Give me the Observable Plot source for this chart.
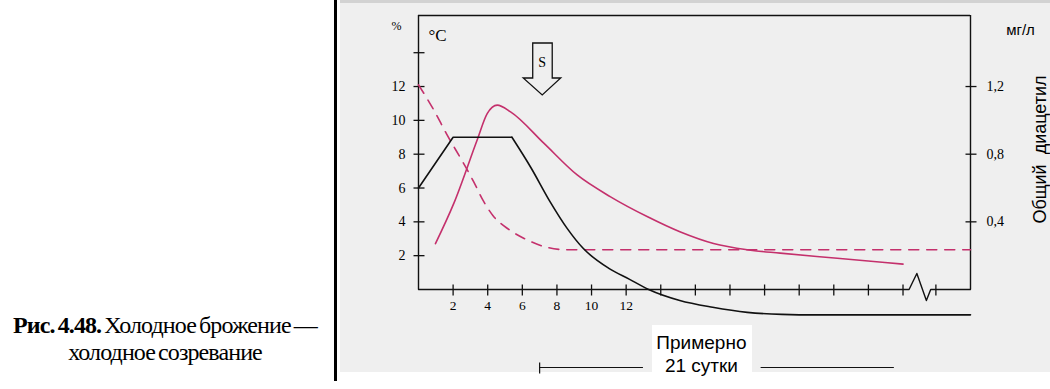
<!DOCTYPE html>
<html><head><meta charset="utf-8">
<script src="https://cdn.jsdelivr.net/npm/d3@7"></script>
<script src="https://cdn.jsdelivr.net/npm/@observablehq/plot@0.6"></script>
<style>
html,body{margin:0;padding:0;background:#fff;}
#wrap{position:relative;width:1050px;height:389px;overflow:hidden;}
#scan{position:absolute;left:340px;top:0;width:710px;height:372px;background:#efefef;}
#topband{position:absolute;left:340px;top:0;width:710px;height:3px;background:#d2d2d2;}
#patch{position:absolute;left:652px;top:325px;width:100px;height:47px;background:#fff;}
#divider{position:absolute;left:334px;top:0;width:3px;height:381px;background:#000;}
#caption{position:absolute;left:0;top:312px;width:330px;text-align:center;font-family:"Liberation Serif",serif;font-size:24px;line-height:27px;letter-spacing:-0.9px;word-spacing:-2px;color:#000;}
#chart{position:absolute;left:0;top:0;}
</style></head><body>
<div id="wrap">
<div id="scan"></div><div id="topband"></div><div id="patch"></div><div id="divider"></div>
<div id="caption"><b>Рис. 4.48.</b> Холодное брожение —<br>холодное созревание</div>
<div id="chart"></div>
</div>
<script>
// Temperature, °C (black)
const tempDays   = [0, 2, 5.4, 6.5, 7.6, 8.6, 9.5, 11, 12.2, 13.3, 15.1, 17, 19, 21, 23, 31.9];
const tempValues = [6, 9, 9, 7.2, 5.2, 3.6, 2.45, 1.25, 0.6, 0, -0.65, -1.05, -1.35, -1.47, -1.5, -1.5];
// Total diacetyl (magenta solid, read on the left scale; right scale = /10 mg/l)
const diaDays   = [0.98, 2.04, 3.39, 3.97, 4.55, 5.32, 7.24, 9.17, 11.1, 13.24, 15.14, 17.05, 19.0, 20.9, 24.2, 28.0];
const diaValues = [2.71, 5.09, 8.84, 10.4, 10.9, 10.5, 8.65, 6.77, 5.48, 4.3, 3.4, 2.72, 2.35, 2.15, 1.85, 1.5];
// Extract, % (magenta dashed)
const extDays   = [0, 0.89, 1.62, 2.58, 3.2, 3.74, 4.32, 5.22, 6.24, 7.4, 8.5, 31.9];
const extValues = [12.1, 10.6, 9.2, 7.5, 6.35, 5.25, 4.35, 3.55, 2.95, 2.5, 2.35, 2.35];
// Axes
const xTicks = [2, 4, 6, 8, 10, 12, 14, 16, 18, 20, 22, 24, 26, 28, 29.9];
const xTickLabels = [2, 4, 6, 8, 10, 12];
const leftTicks = [2, 4, 6, 8, 10, 12, 14];
const leftTickLabels = [2, 4, 6, 8, 10, 12];
const rightTicks = [4, 8, 12];
const rightTickLabels = ["0,4", "0,8", "1,2"];
const breakDays   = [0, 28.35, 28.8, 29.35, 29.6, 31.9];
const breakLevels = [0, 0, 0.95, -0.65, 0, 0];
// Annotations
const arrowDay = [7.15];
const arrowLevel = [11.5];
const arrowLabel = ["S"];
const periodSegments = [[7, 13.0], [19.8, 27.5]];
const periodLabelDay = 16.35;
const periodLabel = ["Примерно", "21 сутки"];

const xMax = 31.9, yMax = 16.2;
const pink = "#c4306c";
const ink = "#111";

const temp = tempDays.map((d, i) => ({day: d, v: tempValues[i]}));
const dia = diaDays.map((d, i) => ({day: d, v: diaValues[i]}));
const ext = extDays.map((d, i) => ({day: d, v: extValues[i]}));
const axisLine = breakDays.map((d, i) => ({day: d, v: breakLevels[i]}));
const arrow = arrowDay.map((d, i) => ({day: d, v: arrowLevel[i], label: arrowLabel[i]}));

const hTick = {draw(c) { c.moveTo(-5, 0); c.lineTo(6, 0); }};
const vTick = {draw(c) { c.moveTo(0, -5); c.lineTo(0, 6); }};
const arrowShape = {draw(c) {
  c.moveTo(-9.5, -52); c.lineTo(10, -52); c.lineTo(10, -17); c.lineTo(18.5, -17);
  c.lineTo(0, 0); c.lineTo(-19, -17); c.lineTo(-9.5, -17); c.closePath();
}};

const serif = "Liberation Serif, DejaVu Serif, serif";
const sans = "Liberation Sans, Arial, sans-serif";

const chart = Plot.plot({
  width: 1050, height: 389,
  marginLeft: 418, marginRight: 80, marginTop: 15, marginBottom: 100,
  x: {domain: [0, xMax]},
  y: {domain: [0, yMax]},
  style: {background: "transparent", fontFamily: serif, color: "#000", overflow: "visible"},
  marks: [
    // frame
    Plot.ruleY([yMax], {x1: 0, x2: xMax, stroke: ink, strokeWidth: 1.4}),
    Plot.ruleX([0, xMax], {stroke: ink, strokeWidth: 1.4}),
    Plot.line(axisLine, {x: "day", y: "v", stroke: ink, strokeWidth: 1.4}),
    // ticks
    Plot.dot(xTicks, {x: d => d, y: 0, symbol: vTick, r: 5, stroke: ink, fill: "none", strokeWidth: 1.3}),
    Plot.dot(leftTicks, {x: 0, y: d => d, symbol: hTick, r: 5, stroke: ink, fill: "none", strokeWidth: 1.3}),
    Plot.dot(rightTicks, {x: xMax, y: d => d, symbol: hTick, r: 5, stroke: ink, fill: "none", strokeWidth: 1.3}),
    Plot.axisX(xTickLabels, {tickSize: 0, tickPadding: 11, fontSize: 13.5, fontFamily: serif, label: null}),
    Plot.axisY(leftTickLabels, {tickSize: 0, tickPadding: 13, fontSize: 14, fontFamily: serif, label: null}),
    Plot.axisY(rightTicks, {anchor: "right", tickSize: 0, tickPadding: 16, fontSize: 14, fontFamily: serif, label: null,
      tickFormat: (d) => rightTickLabels[rightTicks.indexOf(d)]}),
    // axis titles
    Plot.text(["%"], {frameAnchor: "top-left", dx: -27, dy: 6, fontSize: 12, fontFamily: serif}),
    Plot.text(["°C"], {frameAnchor: "top-left", dx: 10, dy: 13, fontSize: 17, fontFamily: serif}),
    Plot.text(["мг/л"], {frameAnchor: "top-right", dx: 50, dy: 9, textAnchor: "middle", fontSize: 15, fontFamily: sans, letterSpacing: 1}),
    Plot.text(["Общий  диацетил"], {frameAnchor: "right", dx: 70, dy: -3, rotate: -90, textAnchor: "middle", fontSize: 18, fontFamily: sans}),
    // curves
    Plot.line(ext, {x: "day", y: "v", stroke: pink, strokeWidth: 1.6, strokeDasharray: "10,8", curve: "monotone-x"}),
    Plot.line(dia, {x: "day", y: "v", stroke: pink, strokeWidth: 1.6, curve: "monotone-x"}),
    Plot.line(temp.slice(0, 3), {x: "day", y: "v", stroke: ink, strokeWidth: 1.6}),
    Plot.line(temp.slice(2), {x: "day", y: "v", stroke: ink, strokeWidth: 1.6, curve: "monotone-x"}),
    // arrow S
    Plot.dot(arrow, {x: "day", y: "v", symbol: arrowShape, r: 5, stroke: ink, fill: "none", strokeWidth: 1.3}),
    Plot.text(arrow, {x: "day", y: "v", text: "label", dy: -32, fontSize: 14, fontFamily: serif}),
    // period annotation
    ...periodSegments.map(([a, b]) => Plot.ruleY([0], {x1: a, x2: b, dy: 78, stroke: ink, strokeWidth: 1.2})),
    Plot.dot([periodSegments[0][0]], {x: d => d, y: 0, dy: 78, symbol: vTick, r: 4, stroke: ink, fill: "none", strokeWidth: 1.2}),
    Plot.text([periodLabel[0]], {x: periodLabelDay, y: 0, dy: 53, text: d => d, fontSize: 19, fontFamily: sans}),
    Plot.text([periodLabel[1]], {x: periodLabelDay, y: 0, dy: 76, text: d => d, fontSize: 19, fontFamily: sans}),
  ]
});
document.getElementById("chart").appendChild(chart);
</script>
</body></html>
